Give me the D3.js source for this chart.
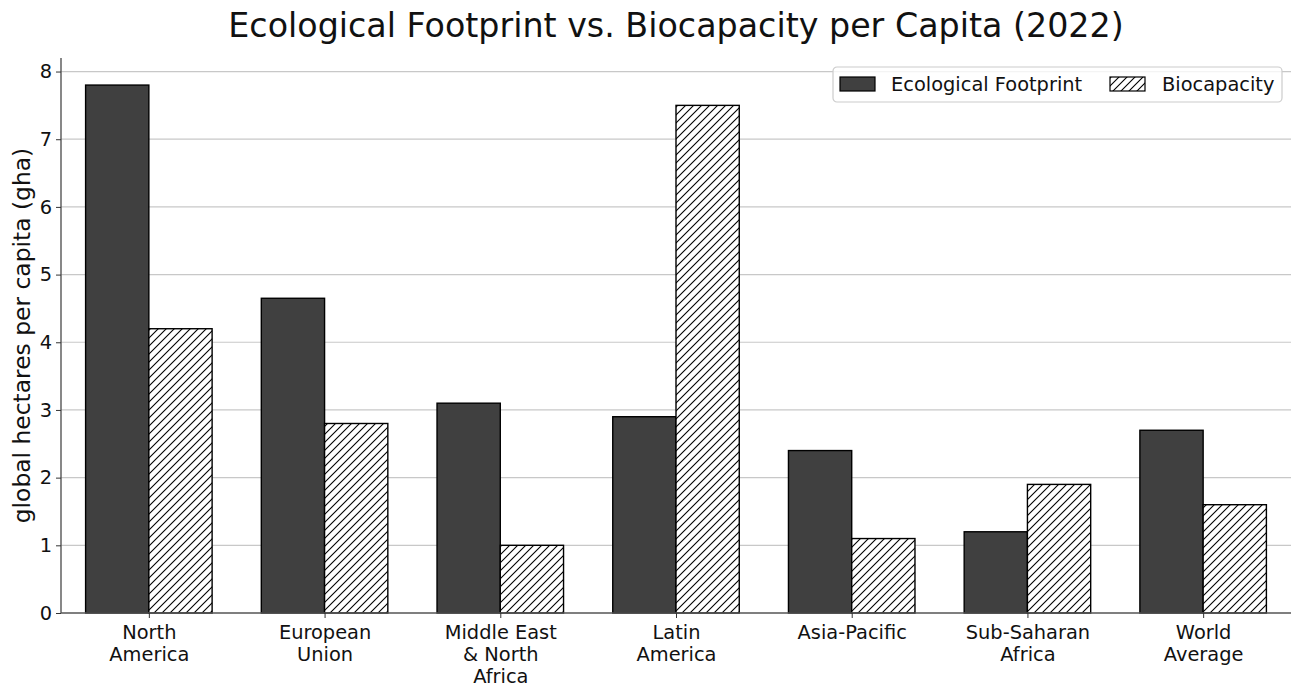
<!DOCTYPE html>
<html>
<head>
<meta charset="utf-8">
<script src="https://cdn.jsdelivr.net/npm/d3@7"></script>
<style>
  body { margin: 0; background: #fff; }
  svg text { font-family: "DejaVu Sans", sans-serif; }
</style>
</head>
<body>
<div id="chart"></div>
<script>
// 数据
const regions = [
  ['North', 'America'],
  ['European', 'Union'],
  ['Middle East', '& North', 'Africa'],
  ['Latin', 'America'],
  ['Asia-Pacific'],
  ['Sub-Saharan', 'Africa'],
  ['World', 'Average']
]
const footprint = [7.8, 4.65, 3.1, 2.9, 2.4, 1.2, 2.7]
const biocapacity = [4.2, 2.8, 1.0, 7.5, 1.1, 1.9, 1.6]
const yTicks = [0, 1, 2, 3, 4, 5, 6, 7, 8]
const seriesNames = ['Ecological Footprint', 'Biocapacity']

const width = 1301
const height = 696
const margin = { top: 58, right: 10, bottom: 83, left: 61 }
const plotW = width - margin.left - margin.right
const plotH = height - margin.top - margin.bottom
const FONT = '"DejaVu Sans", sans-serif'
const tickSize = 19.4

const svg = d3.select('#chart').append('svg')
  .attr('width', width)
  .attr('height', height)

// 斜线填充
const defs = svg.append('defs')
defs.append('pattern')
  .attr('id', 'hatch')
  .attr('patternUnits', 'userSpaceOnUse')
  .attr('width', 8)
  .attr('height', 8)
  .call(p => {
    p.append('rect').attr('width', 8).attr('height', 8).attr('fill', '#fff')
    p.append('path')
      .attr('d', 'M-2,2 L2,-2 M0,8 L8,0 M6,10 L10,6')
      .attr('stroke', '#000')
      .attr('stroke-width', 1.1)
  })

const g = svg.append('g')
  .attr('transform', `translate(${margin.left},${margin.top})`)

// 比例尺
const x = d3.scaleLinear().domain([-0.5, regions.length - 0.5]).range([0, plotW])
const y = d3.scaleLinear().domain([0, 8.2]).range([plotH, 0])
const step = x(1) - x(0)
const barW = step * 0.36

// 网格线
g.append('g')
  .selectAll('line')
  .data(yTicks.filter(d => d > 0))
  .join('line')
  .attr('x1', 0)
  .attr('x2', plotW)
  .attr('y1', d => y(d))
  .attr('y2', d => y(d))
  .attr('stroke', '#c8c8c8')
  .attr('stroke-width', 1.2)

// 柱子
const groups = g.selectAll('.grp')
  .data(regions.map((r, i) => ({ i, fp: footprint[i], bc: biocapacity[i] })))
  .join('g')
  .attr('class', 'grp')

groups.append('rect')
  .attr('x', d => x(d.i) - barW)
  .attr('y', d => y(d.fp))
  .attr('width', barW)
  .attr('height', d => y(0) - y(d.fp))
  .attr('fill', '#404040')
  .attr('stroke', '#000')
  .attr('stroke-width', 1.4)

groups.append('rect')
  .attr('x', d => x(d.i))
  .attr('y', d => y(d.bc))
  .attr('width', barW)
  .attr('height', d => y(0) - y(d.bc))
  .attr('fill', 'url(#hatch)')
  .attr('stroke', '#000')
  .attr('stroke-width', 1.4)

// y轴
const yAxis = g.append('g')
  .call(d3.axisLeft(y).tickValues(yTicks).tickSize(5).tickPadding(4))
yAxis.select('.domain').attr('stroke', '#555').attr('stroke-width', 1.4)
  .attr('d', `M0,0V${plotH}`)
yAxis.selectAll('.tick line').attr('stroke', '#333')
yAxis.selectAll('.tick text')
  .attr('font-size', tickSize)
  .attr('fill', '#111')
  .attr('font-family', FONT)

// x轴
const xAxis = g.append('g')
  .attr('transform', `translate(0,${plotH})`)
  .call(d3.axisBottom(x).tickValues(d3.range(regions.length)).tickSize(5).tickFormat(''))
xAxis.select('.domain').attr('stroke', '#555').attr('stroke-width', 1.4)
  .attr('d', `M0,0H${plotW}`)
xAxis.selectAll('.tick line').attr('stroke', '#333')
xAxis.selectAll('.tick').each(function (d) {
  const t = d3.select(this).append('text')
    .attr('text-anchor', 'middle')
    .attr('font-size', tickSize)
    .attr('font-family', FONT)
    .attr('fill', '#111')
    .attr('y', 26)
  regions[d].forEach((line, k) => {
    t.append('tspan').attr('x', 0).attr('dy', k === 0 ? 0 : 22).text(line)
  })
})

// y轴标题
svg.append('text')
  .attr('transform', `translate(30,${margin.top + plotH / 2}) rotate(-90)`)
  .attr('text-anchor', 'middle')
  .attr('font-size', 23.4)
  .attr('font-family', FONT)
  .attr('fill', '#111')
  .text('global hectares per capita (gha)')

// 标题
svg.append('text')
  .attr('x', margin.left + plotW / 2)
  .attr('y', 37)
  .attr('text-anchor', 'middle')
  .attr('font-size', 33.3)
  .attr('font-family', FONT)
  .attr('fill', '#111')
  .text('Ecological Footprint vs. Biocapacity per Capita (2022)')

// 图例
const legend = svg.append('g').attr('transform', 'translate(833,67)')
legend.append('rect')
  .attr('width', 449)
  .attr('height', 35)
  .attr('rx', 4)
  .attr('fill', '#fff')
  .attr('fill-opacity', 0.8)
  .attr('stroke', '#ccc')
  .attr('stroke-width', 1.2)
const items = [
  { x: 7, fill: '#404040', label: seriesNames[0], tx: 58 },
  { x: 277, fill: 'url(#hatch)', label: seriesNames[1], tx: 329 }
]
items.forEach(it => {
  legend.append('rect')
    .attr('x', it.x)
    .attr('y', 10)
    .attr('width', 35)
    .attr('height', 14)
    .attr('fill', it.fill)
    .attr('stroke', '#000')
    .attr('stroke-width', 1.2)
  legend.append('text')
    .attr('x', it.tx)
    .attr('y', 24)
    .attr('font-size', tickSize)
    .attr('font-family', FONT)
    .attr('fill', '#111')
    .text(it.label)
})
</script>
</body>
</html>
